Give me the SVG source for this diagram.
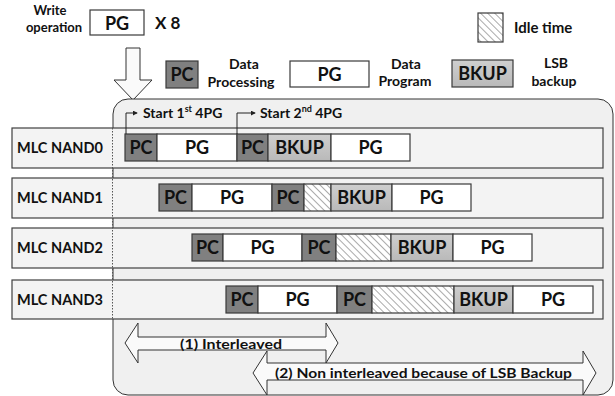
<svg xmlns="http://www.w3.org/2000/svg" width="615" height="396" viewBox="0 0 615 396">
<defs>
<style>
text{font-family:Lato,"Liberation Sans",sans-serif;font-weight:700;fill:#111}
.blk{stroke:#3a3a3a;stroke-width:1.2}
.pc{fill:#808080}
.pg{fill:#ffffff}
.bk{fill:url(#bkg)}
.idle{fill:url(#hatch)}
.bt{font-size:18px;text-anchor:middle}
.row{fill:#f3f3f3;stroke:#404040;stroke-width:1.2}
.rl{font-size:14.5px}
.lg{font-size:14px;text-anchor:middle}
.st{font-size:14px}
.arr{fill:#fafafa;stroke:#333;stroke-width:1}
.ln{fill:none;stroke:#222;stroke-width:1}
</style>
<linearGradient id="bkg" x1="0" y1="0" x2="0" y2="1">
<stop offset="0" stop-color="#cfcfcf"/>
<stop offset="1" stop-color="#b9b9b9"/>
</linearGradient>
<pattern id="hatch" patternUnits="userSpaceOnUse" width="5" height="5" patternTransform="rotate(-45)">
<rect width="5" height="5" fill="#ffffff"/>
<line x1="0" y1="0" x2="0" y2="5" stroke="#555" stroke-width="1"/>
</pattern>
<marker id="ah" viewBox="0 0 6 6" refX="5" refY="3" markerWidth="5" markerHeight="5" orient="auto">
<path d="M0,0 L6,3 L0,6 z" fill="#222"/>
</marker>
</defs>

<g id="header">
<text x="50" y="15" font-size="13" text-anchor="middle">Write</text>
<text x="54" y="32" font-size="13" text-anchor="middle">operation</text>
<rect x="90" y="10" width="54" height="25" class="blk pg"/>
<text x="117" y="30" font-size="18" text-anchor="middle">PG</text>
<text x="155" y="29" font-size="17">X 8</text>
</g>

<g id="legend">
<rect x="478" y="13" width="25" height="29" class="blk idle" stroke-width="1"/>
<text x="514" y="33" font-size="15">Idle time</text>
<rect x="166" y="61" width="32" height="27" class="blk pc"/>
<text x="182" y="81" class="bt">PC</text>
<text x="244" y="69" class="lg">Data</text>
<text x="241" y="87" class="lg">Processing</text>
<rect x="290" y="61" width="79" height="26" class="blk pg"/>
<text x="329.5" y="81" class="bt">PG</text>
<text x="406" y="69" class="lg">Data</text>
<text x="405" y="86" class="lg">Program</text>
<rect x="452" y="60" width="61" height="27" class="blk bk"/>
<text x="482.5" y="80" class="bt">BKUP</text>
<text x="556" y="68" class="lg">LSB</text>
<text x="554" y="86" class="lg">backup</text>
</g>

<g id="input-arrow">
<polygon class="arr" points="126,48 140,48 140,80 152,80 133,100 114,80 126,80"/>
</g>

<g id="container">
<rect x="113" y="99" width="500" height="296" rx="15" fill="#f0f0f0" stroke="#333" stroke-width="1"/>
</g>

<g id="nand0">
<rect x="12" y="128" width="591" height="40" class="row"/>
<text x="17" y="153" class="rl">MLC NAND0</text>
<rect x="125" y="134" width="32" height="27" class="blk pc"/><text x="141" y="154" class="bt">PC</text>
<rect x="157" y="134" width="80" height="27" class="blk pg"/><text x="197" y="154" class="bt">PG</text>
<rect x="237" y="134" width="31" height="27" class="blk pc"/><text x="252.5" y="154" class="bt">PC</text>
<rect x="268" y="134" width="63" height="27" class="blk bk"/><text x="299.5" y="154" class="bt">BKUP</text>
<rect x="331" y="134" width="79" height="27" class="blk pg"/><text x="370.5" y="154" class="bt">PG</text>
</g>

<g id="nand1">
<rect x="12" y="178" width="591" height="40" class="row"/>
<text x="17" y="203" class="rl">MLC NAND1</text>
<rect x="159" y="184" width="33" height="27" class="blk pc"/><text x="175.5" y="204" class="bt">PC</text>
<rect x="192" y="184" width="80" height="27" class="blk pg"/><text x="232" y="204" class="bt">PG</text>
<rect x="272" y="184" width="32" height="27" class="blk pc"/><text x="288" y="204" class="bt">PC</text>
<rect x="304" y="184" width="27" height="27" class="blk idle"/>
<rect x="331" y="184" width="61" height="27" class="blk bk"/><text x="361.5" y="204" class="bt">BKUP</text>
<rect x="392" y="184" width="79" height="27" class="blk pg"/><text x="431.5" y="204" class="bt">PG</text>
</g>

<g id="nand2">
<rect x="12" y="228" width="591" height="40" class="row"/>
<text x="17" y="253" class="rl">MLC NAND2</text>
<rect x="192" y="234" width="31" height="27" class="blk pc"/><text x="207.5" y="254" class="bt">PC</text>
<rect x="223" y="234" width="79" height="27" class="blk pg"/><text x="262.5" y="254" class="bt">PG</text>
<rect x="302" y="234" width="34" height="27" class="blk pc"/><text x="319" y="254" class="bt">PC</text>
<rect x="336" y="234" width="55" height="27" class="blk idle"/>
<rect x="391" y="234" width="62" height="27" class="blk bk"/><text x="422" y="254" class="bt">BKUP</text>
<rect x="453" y="234" width="79" height="27" class="blk pg"/><text x="492.5" y="254" class="bt">PG</text>
</g>

<g id="nand3">
<rect x="12" y="280" width="591" height="39" class="row"/>
<text x="17" y="305" class="rl">MLC NAND3</text>
<rect x="226" y="286" width="32" height="27" class="blk pc"/><text x="242" y="306" class="bt">PC</text>
<rect x="258" y="286" width="79" height="27" class="blk pg"/><text x="297.5" y="306" class="bt">PG</text>
<rect x="337" y="286" width="35" height="27" class="blk pc"/><text x="354.5" y="306" class="bt">PC</text>
<rect x="372" y="286" width="82" height="27" class="blk idle"/>
<rect x="454" y="286" width="59" height="27" class="blk bk"/><text x="483.5" y="306" class="bt">BKUP</text>
<rect x="513" y="286" width="80" height="27" class="blk pg"/><text x="553" y="306" class="bt">PG</text>
</g>

<g id="connectors">
<line x1="112.5" y1="128" x2="112.5" y2="319" stroke="#555" stroke-width="1" stroke-dasharray="1.5,1.5"/>
<path class="ln" d="M126,134 V113 H137" marker-end="url(#ah)"/>
<path class="ln" d="M237,134 V113 H255" marker-end="url(#ah)"/>
<polygon class="arr" points="125,343 138,323 138,337 326,337 326,323 338,343 326,363 326,350 138,350 138,363"/>
<polygon class="arr" points="253,373 267,351 267,363 583,363 583,351 596,373 583,395 583,380 267,380 267,395"/>
</g>

<g id="labels">
<text x="143" y="118" class="st">Start 1<tspan font-size="9" dy="-6">st</tspan><tspan dy="6"> 4PG</tspan></text>
<text x="260" y="118" class="st">Start 2<tspan font-size="9" dy="-6">nd</tspan><tspan dy="6"> 4PG</tspan></text>
<text x="180" y="349" font-size="13.5" textLength="102" lengthAdjust="spacingAndGlyphs">(1) Interleaved</text>
<text x="275" y="378" font-size="13.5" textLength="297" lengthAdjust="spacingAndGlyphs">(2) Non interleaved because of LSB Backup</text>
</g>
</svg>
